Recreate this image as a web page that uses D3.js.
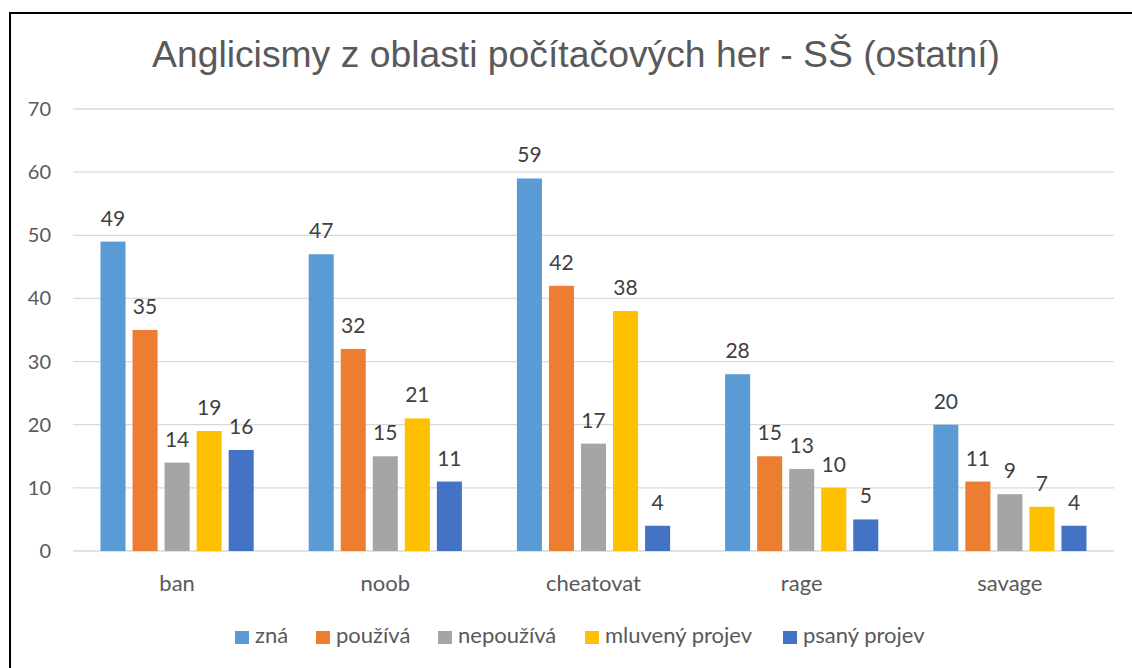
<!DOCTYPE html>
<html>
<head>
<meta charset="utf-8">
<script src="https://cdn.jsdelivr.net/npm/d3@7"></script>
<style>
  body { margin: 0; background: #fff; }
  svg { display: block; }
</style>
</head>
<body>
<script>
const categories = ["ban", "noob", "cheatovat", "rage", "savage"];
const seriesNames = ["zná", "používá", "nepoužívá", "mluvený projev", "psaný projev"];
const zna = [49, 47, 59, 28, 20];
const pouziva = [35, 32, 42, 15, 11];
const nepouziva = [14, 15, 17, 13, 9];
const mluveny = [19, 21, 38, 10, 7];
const psany = [16, 11, 4, 5, 4];
const yTicks = [0, 10, 20, 30, 40, 50, 60, 70];
const colors = ["#5B9BD5", "#ED7D31", "#A5A5A5", "#FFC000", "#4472C4"];

const seriesValues = [zna, pouziva, nepouziva, mluveny, psany];

const width = 1132, height = 668;
const svg = d3.select("body").append("svg")
  .attr("width", width)
  .attr("height", height);

// chart frame (runs off the right/bottom edge like the source)
svg.append("rect")
  .attr("x", 10).attr("y", 13)
  .attr("width", 1140).attr("height", 680)
  .attr("fill", "#fff")
  .attr("stroke", "#000")
  .attr("stroke-width", 2);

svg.append("text")
  .attr("x", 576).attr("y", 67)
  .attr("text-anchor", "middle")
  .attr("font-family", "Liberation Sans, Arial, sans-serif")
  .attr("font-size", 36)
  .attr("textLength", 848)
  .attr("lengthAdjust", "spacingAndGlyphs")
  .attr("fill", "#595959")
  .text("Anglicismy z oblasti počítačových her - SŠ (ostatní)");

const x0 = d3.scaleBand().domain(categories).range([73, 1114]);
const x1 = d3.scaleBand().domain(seriesNames)
  .range([27.5, x0.bandwidth() - 27.5])
  .paddingInner(7 / 32);
const y = d3.scaleLinear().domain([0, 70]).range([551, 109]);

const font = "Lato, 'Open Sans', sans-serif";

// grid
svg.append("g")
  .selectAll("line")
  .data(yTicks)
  .join("line")
  .attr("x1", 73).attr("x2", 1114)
  .attr("y1", d => y(d)).attr("y2", d => y(d))
  .attr("stroke", "#D9D9D9")
  .attr("stroke-width", 1.3);

// y axis labels
svg.append("g")
  .selectAll("text")
  .data(yTicks)
  .join("text")
  .attr("x", 51)
  .attr("y", d => y(d) + 7)
  .attr("text-anchor", "end")
  .attr("font-family", font)
  .attr("font-size", 20)
  .attr("fill", "#595959")
  .text(d => d);

// bars
const groups = svg.append("g")
  .selectAll("g")
  .data(categories)
  .join("g")
  .attr("transform", c => `translate(${x0(c)},0)`);

const cells = (c, i) => seriesNames.map((s, k) => ({ s, k, v: seriesValues[k][i] }));

groups.selectAll("rect")
  .data(cells)
  .join("rect")
  .attr("x", d => x1(d.s))
  .attr("y", d => y(d.v))
  .attr("width", x1.bandwidth())
  .attr("height", d => y(0) - y(d.v))
  .attr("fill", d => colors[d.k]);

groups.selectAll("text")
  .data(cells)
  .join("text")
  .attr("x", d => x1(d.s) + x1.bandwidth() / 2)
  .attr("y", d => y(d.v) - 16)
  .attr("text-anchor", "middle")
  .attr("font-family", font)
  .attr("font-size", 21)
  .attr("fill", "#404040")
  .text(d => d.v);

// category labels
svg.append("g")
  .selectAll("text")
  .data(categories)
  .join("text")
  .attr("x", c => x0(c) + x0.bandwidth() / 2)
  .attr("y", 591)
  .attr("text-anchor", "middle")
  .attr("font-family", font)
  .attr("font-size", 22)
  .attr("fill", "#595959")
  .text(c => c);

// legend
const legendX = [235, 316, 438, 585, 783];
const legend = svg.append("g")
  .selectAll("g")
  .data(seriesNames)
  .join("g")
  .attr("transform", (d, i) => `translate(${legendX[i]},631)`);
legend.append("rect")
  .attr("width", 14).attr("height", 13)
  .attr("fill", (d, i) => colors[i]);
legend.append("text")
  .attr("x", 20).attr("y", 12)
  .attr("font-family", font)
  .attr("font-size", 22)
  .attr("fill", "#595959")
  .text(d => d);
</script>
</body>
</html>
